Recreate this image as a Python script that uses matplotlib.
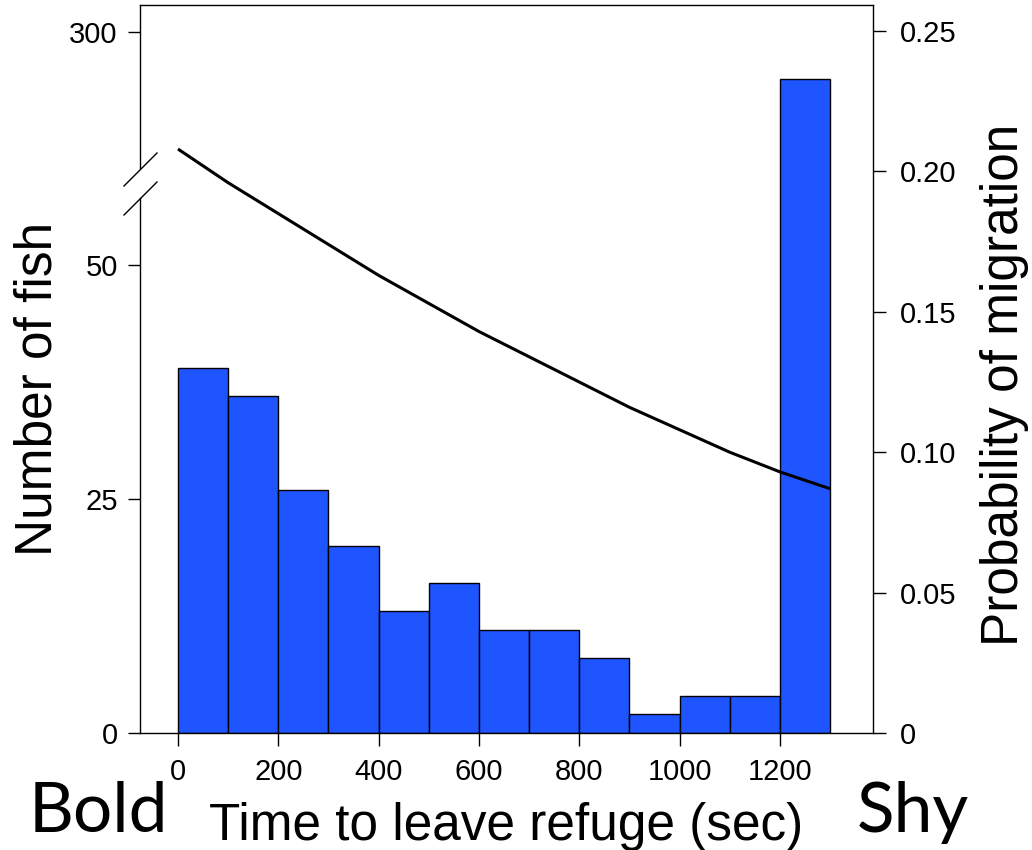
import numpy as np
import matplotlib
matplotlib.use("Agg")
import matplotlib.pyplot as plt
from matplotlib.ticker import FixedLocator, NullLocator, FixedFormatter

# ---- data ----
bin_edges = [0, 100, 200, 300, 400, 500, 600, 700, 800, 900, 1000, 1100, 1200, 1300]
fish_counts = [39, 36, 26, 20, 13, 16, 11, 11, 8, 2, 4, 4, 295]
curve_time = [0, 100, 200, 300, 400, 500, 600, 700, 800, 900, 1000, 1100, 1200, 1300]
curve_prob = [0.208, 0.196, 0.185, 0.174, 0.163, 0.153, 0.143, 0.134,
              0.125, 0.116, 0.108, 0.100, 0.093, 0.087]
x_ticks = [0, 200, 400, 600, 800, 1000, 1200]
left_ticks = [0, 25, 50, 300]
left_tick_labels = ["0", "25", "50", "300"]
right_ticks = [0, 0.05, 0.10, 0.15, 0.20, 0.25]
right_tick_labels = ["0", "0.05", "0.10", "0.15", "0.20", "0.25"]

W, H = 1032, 850
fig = plt.figure(figsize=(W / 100, H / 100), dpi=100)

def fx(px):
    return px / W

def fy(py):
    return 1 - py / H

ax_l, ax_r, ax_t, ax_b = 140, 873, 5, 733
ax = fig.add_axes([fx(ax_l), fy(ax_b), fx(ax_r) - fx(ax_l), fy(ax_t) - fy(ax_b)])

# broken count scale
y_low, y_up = 58.76, 283.87
gap = y_up - y_low

def fwd(y):
    y = np.asarray(y, dtype=float)
    return np.where(y < y_low, y, np.where(y < y_up, y_low, y - gap))

def inv(s):
    s = np.asarray(s, dtype=float)
    return np.where(s < y_low, s, s + gap)

ax.set_yscale("function", functions=(fwd, inv))

bar_color = "#1f55ff"
widths = np.diff(bin_edges)
ax.bar(bin_edges[:-1], fish_counts, width=widths, align="edge",
       color=bar_color, edgecolor="black", linewidth=1.0, zorder=2)

ax.set_xlim(-75.7, 1385.4)
ax.set_ylim(0, 302.9)

tick_font = "Liberation Sans"
ax.xaxis.set_major_locator(FixedLocator(x_ticks))
ax.yaxis.set_major_locator(FixedLocator(left_ticks))
ax.yaxis.set_major_formatter(FixedFormatter(left_tick_labels))
ax.yaxis.set_minor_locator(NullLocator())
ax.xaxis.set_minor_locator(NullLocator())
ax.tick_params(axis="both", direction="out", length=9, width=1.0,
               labelsize=21, color="black")
ax.tick_params(axis="x", pad=9)
ax.tick_params(axis="y", pad=7)
for lab in ax.get_xticklabels() + ax.get_yticklabels():
    lab.set_fontfamily(tick_font)

for s in ["top", "bottom"]:
    ax.spines[s].set_linewidth(1.0)
ax.spines["left"].set_visible(False)
ax.spines["right"].set_visible(False)

# left spine with a gap and break marks
lw = 1.0
fig.add_artist(plt.Line2D([fx(ax_l), fx(ax_l)], [fy(ax_b), fy(198)], color="black", lw=lw))
fig.add_artist(plt.Line2D([fx(ax_l), fx(ax_l)], [fy(168), fy(ax_t)], color="black", lw=lw))
fig.add_artist(plt.Line2D([fx(124), fx(157)], [fy(186), fy(153)], color="black", lw=lw))
fig.add_artist(plt.Line2D([fx(124), fx(157)], [fy(215), fy(182)], color="black", lw=lw))

# probability axis
ax2 = ax.twinx()
ax2.set_ylim(0, 0.2593)
ax2.plot(curve_time, curve_prob, color="black", lw=2.2, solid_capstyle="butt", zorder=3)
ax2.yaxis.set_major_locator(FixedLocator(right_ticks))
ax2.yaxis.set_major_formatter(FixedFormatter(right_tick_labels))
ax2.yaxis.set_minor_locator(NullLocator())
ax2.tick_params(axis="y", direction="out", length=9, width=1.0, labelsize=21, pad=10)
for lab in ax2.get_yticklabels():
    lab.set_fontfamily(tick_font)
for s in ["left", "top", "bottom"]:
    ax2.spines[s].set_visible(False)
ax2.spines["right"].set_linewidth(1.0)

# labels
label_font = "Liberation Sans"
fig.text(fx(506.5), fy(840), "Time to leave refuge (sec)", ha="center", va="baseline",
         fontsize=37, family=label_font)
fig.text(fx(13), fy(388.5), "Number of fish", rotation=90, ha="left", va="center",
         fontsize=37, family=label_font)
fig.text(fx(980), fy(385), "Probability of migration", rotation=90, ha="left", va="center",
         fontsize=37, family=label_font)
fig.text(fx(29), fy(832), "Bold", ha="left", va="baseline", fontsize=50, family="Lato")
fig.text(fx(857), fy(832), "Shy", ha="left", va="baseline", fontsize=50, family="Lato")

fig.savefig("out.png", dpi=100)
